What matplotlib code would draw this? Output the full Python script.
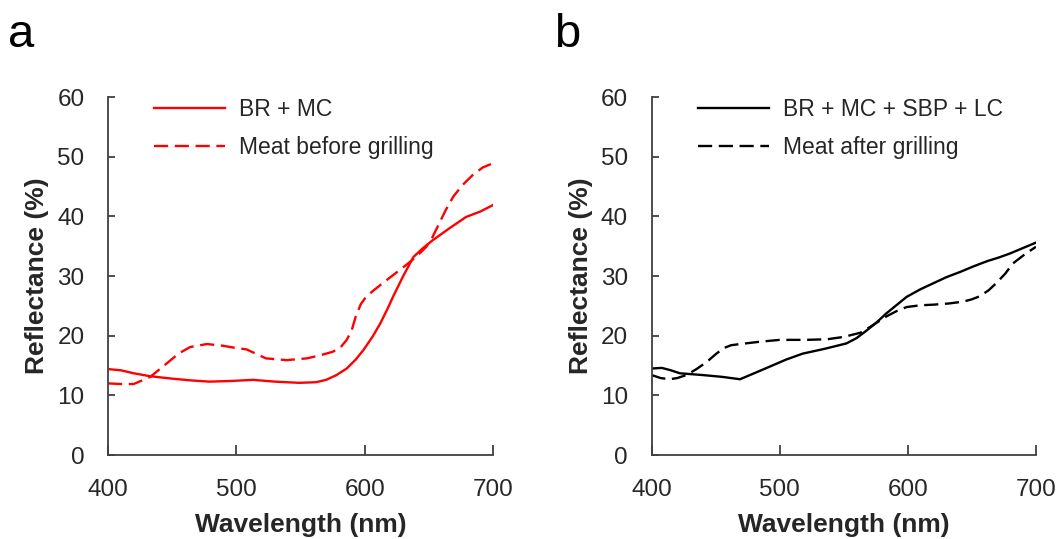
import matplotlib.pyplot as plt

plt.rcParams['font.family'] = ['Liberation Sans', 'DejaVu Sans']

# panel a: BR + MC vs meat before grilling
wl_a_solid = [400, 410, 420, 433, 450, 465, 479, 495, 513, 530, 549, 562, 570, 578, 586, 593, 599, 606, 612, 618, 622, 630, 638, 645, 653, 666, 679, 690, 700]
refl_a_solid = [14.4, 14.2, 13.7, 13.2, 12.8, 12.5, 12.3, 12.4, 12.6, 12.3, 12.1, 12.2, 12.6, 13.4, 14.5, 16.0, 17.6, 19.8, 22.0, 24.6, 26.5, 30.0, 33.2, 34.6, 36.0, 38.0, 39.9, 40.8, 41.9]
wl_a_dash = [400, 410, 420, 433, 446, 455, 464, 477, 490, 498, 508, 515, 523, 539, 555, 565, 575, 581, 586, 590, 593, 597, 601, 607, 614, 623, 632, 640, 648, 653, 658, 663, 669, 676, 684, 692, 700]
refl_a_dash = [12.0, 11.9, 11.9, 13.1, 15.4, 17.0, 18.1, 18.6, 18.3, 18.0, 17.7, 17.0, 16.2, 15.9, 16.2, 16.7, 17.3, 18.0, 19.3, 21.0, 23.2, 25.3, 26.5, 27.6, 28.8, 30.3, 31.8, 33.2, 34.9, 36.6, 38.8, 41.0, 43.3, 45.2, 46.9, 48.2, 48.9]

# panel b: BR + MC + SBP + LC vs meat after grilling
wl_b_solid = [400, 408, 415, 422, 440, 455, 469, 480, 492, 505, 518, 535, 552, 560, 568, 576, 583, 591, 599, 610, 620, 630, 641, 651, 662, 671, 680, 690, 700]
refl_b_solid = [14.5, 14.6, 14.2, 13.7, 13.4, 13.1, 12.7, 13.7, 14.8, 16.0, 17.0, 17.8, 18.7, 19.6, 20.9, 22.3, 23.7, 25.1, 26.5, 27.8, 28.8, 29.8, 30.7, 31.6, 32.5, 33.1, 33.8, 34.7, 35.6]
wl_b_dash = [400, 407, 414, 420, 427, 435, 443, 450, 456, 462, 469, 485, 500, 520, 537, 550, 563, 573, 583, 591, 599, 610, 620, 632, 643, 650, 656, 663, 669, 676, 682, 691, 700]
refl_b_dash = [13.4, 12.9, 12.7, 12.9, 13.4, 14.4, 15.6, 16.9, 17.9, 18.4, 18.6, 19.0, 19.3, 19.3, 19.4, 19.8, 20.5, 21.8, 23.2, 24.1, 24.8, 25.1, 25.2, 25.4, 25.7, 26.1, 26.6, 27.6, 28.8, 30.4, 32.1, 33.6, 34.9]

x_ticks = [400, 500, 600, 700]
y_ticks = [0, 10, 20, 30, 40, 50, 60]

axis_col = '#404040'
text_col = '#262626'

fig = plt.figure(figsize=(10.61, 5.39), dpi=100)
ax_a = fig.add_axes([0.1018, 0.1558, 0.3629, 0.6642])
ax_b = fig.add_axes([0.6142, 0.1558, 0.3622, 0.6642])

dash = (0, (6, 2.8))
ax_a.plot(wl_a_solid, refl_a_solid, color='#ff0000', lw=1.7, label='BR + MC')
ax_a.plot(wl_a_dash, refl_a_dash, color='#ff0000', lw=1.7, ls=dash, label='Meat before grilling')
ax_b.plot(wl_b_solid, refl_b_solid, color='black', lw=1.7, label='BR + MC + SBP + LC')
ax_b.plot(wl_b_dash, refl_b_dash, color='black', lw=1.7, ls=dash, label='Meat after grilling')

for ax, letter, lx in [(ax_a, 'a', 0.008), (ax_b, 'b', 0.522)]:
    ax.set_xlim(400, 700)
    ax.set_ylim(0, 60)
    ax.set_xticks(x_ticks)
    ax.set_yticks(y_ticks)
    for s in ['top', 'right']:
        ax.spines[s].set_visible(False)
    for s in ['left', 'bottom']:
        ax.spines[s].set_color(axis_col)
        ax.spines[s].set_linewidth(1.3)
    ax.tick_params(axis='x', direction='in', length=7, width=1.3, color=axis_col,
                   labelsize=17.5, labelcolor=text_col, pad=17)
    ax.tick_params(axis='y', direction='in', length=5, width=1.3, color=axis_col,
                   labelsize=17.5, labelcolor=text_col, pad=17)
    ax.set_xlabel('Wavelength (nm)', fontsize=19, fontweight='bold', color=text_col, labelpad=9)
    ax.set_ylabel('Reflectance (%)', fontsize=19, fontweight='bold', color=text_col, labelpad=6)
    ax.legend(loc='upper left', bbox_to_anchor=(0.09, 1.03), frameon=False, fontsize=16.5,
              handlelength=3.1, handletextpad=0.6, labelspacing=0.68, borderpad=0,
              labelcolor=text_col)
    fig.text(lx, 0.975, letter, fontsize=34, va='top', ha='left', color='black')

fig.savefig('out.png', dpi=100)
